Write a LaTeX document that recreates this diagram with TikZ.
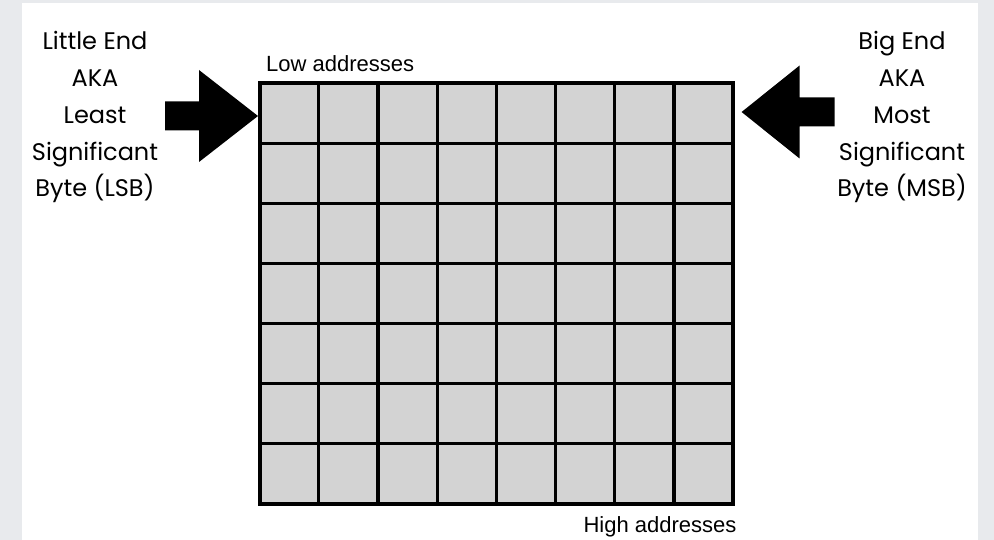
\documentclass[tikz,border=0pt]{standalone}
\usepackage{fontspec}
\usepackage{xcolor}
\usepackage{tikz}
\usetikzlibrary{positioning}

\newfontfamily\labelfont[Ligatures=NoCommon]{Poppins}
\newfontfamily\addrfont{Liberation Sans}
\definecolor{framegray}{HTML}{E8EAED}
\definecolor{cellgray}{HTML}{D3D3D3}

\begin{document}
\begin{tikzpicture}[
  x=1pt, y=-1pt,
  cell/.style={draw, fill=cellgray, line width=3.2pt, minimum width=59.2pt, minimum height=60pt, inner sep=0pt, outer sep=0pt},
  endlabel/.style={font=\labelfont\fontsize{24}{36.7}\selectfont, align=center, inner sep=0pt, anchor=north},
  addr/.style={font=\addrfont\fontsize{22}{26}\selectfont, inner sep=0pt},
  bigarrow/.style={fill=black},
]

% Page frame
\useasboundingbox (0,0) rectangle (994,540);
\fill[framegray] (0,0) rectangle (994,540);
\fill[white] (22,3) rectangle (978,540);

% Memory grid (7 rows x 8 bytes)
\foreach \r in {1,...,7}
  \foreach \c in {1,...,8}
    \node[cell] (c-\r-\c) at ({259.5+59.2*(\c-0.5)}, {83.5+60*(\r-0.5)}) {};
\draw[line width=4pt] (c-1-1.north west) rectangle (c-7-8.south east);

% Address labels
\node[addr, anchor=base west] (low) at ([shift={(6.5,-11.5)}]c-1-1.north west) {Low addresses};
\node[addr, anchor=base east] (high) at ([shift={(3.5,28.5)}]c-7-8.south east) {High addresses};

% Little end
\coordinate (ltip) at ([shift={(-1.5,2.5)}]c-1-1.west);
\fill[bigarrow] (ltip) -- ++(-59,-46) -- ++(0,31.5) -- ++(-34,0) -- ++(0,29) -- ++(34,0) -- ++(0,31.5) -- cycle;
\node[endlabel] (lsb) at (95,31.5) {Little End\\AKA\\Least\\Significant\\Byte (LSB)};

% Big end
\coordinate (rtip) at ([shift={(8.5,-1.5)}]c-1-8.east);
\fill[bigarrow] (rtip) -- ++(58,-46.5) -- ++(0,32) -- ++(35,0) -- ++(0,29) -- ++(-35,0) -- ++(0,32) -- cycle;
\node[endlabel] (msb) at (902,31.5) {Big End\\AKA\\Most\\Significant\\Byte (MSB)};

\end{tikzpicture}
\end{document}
